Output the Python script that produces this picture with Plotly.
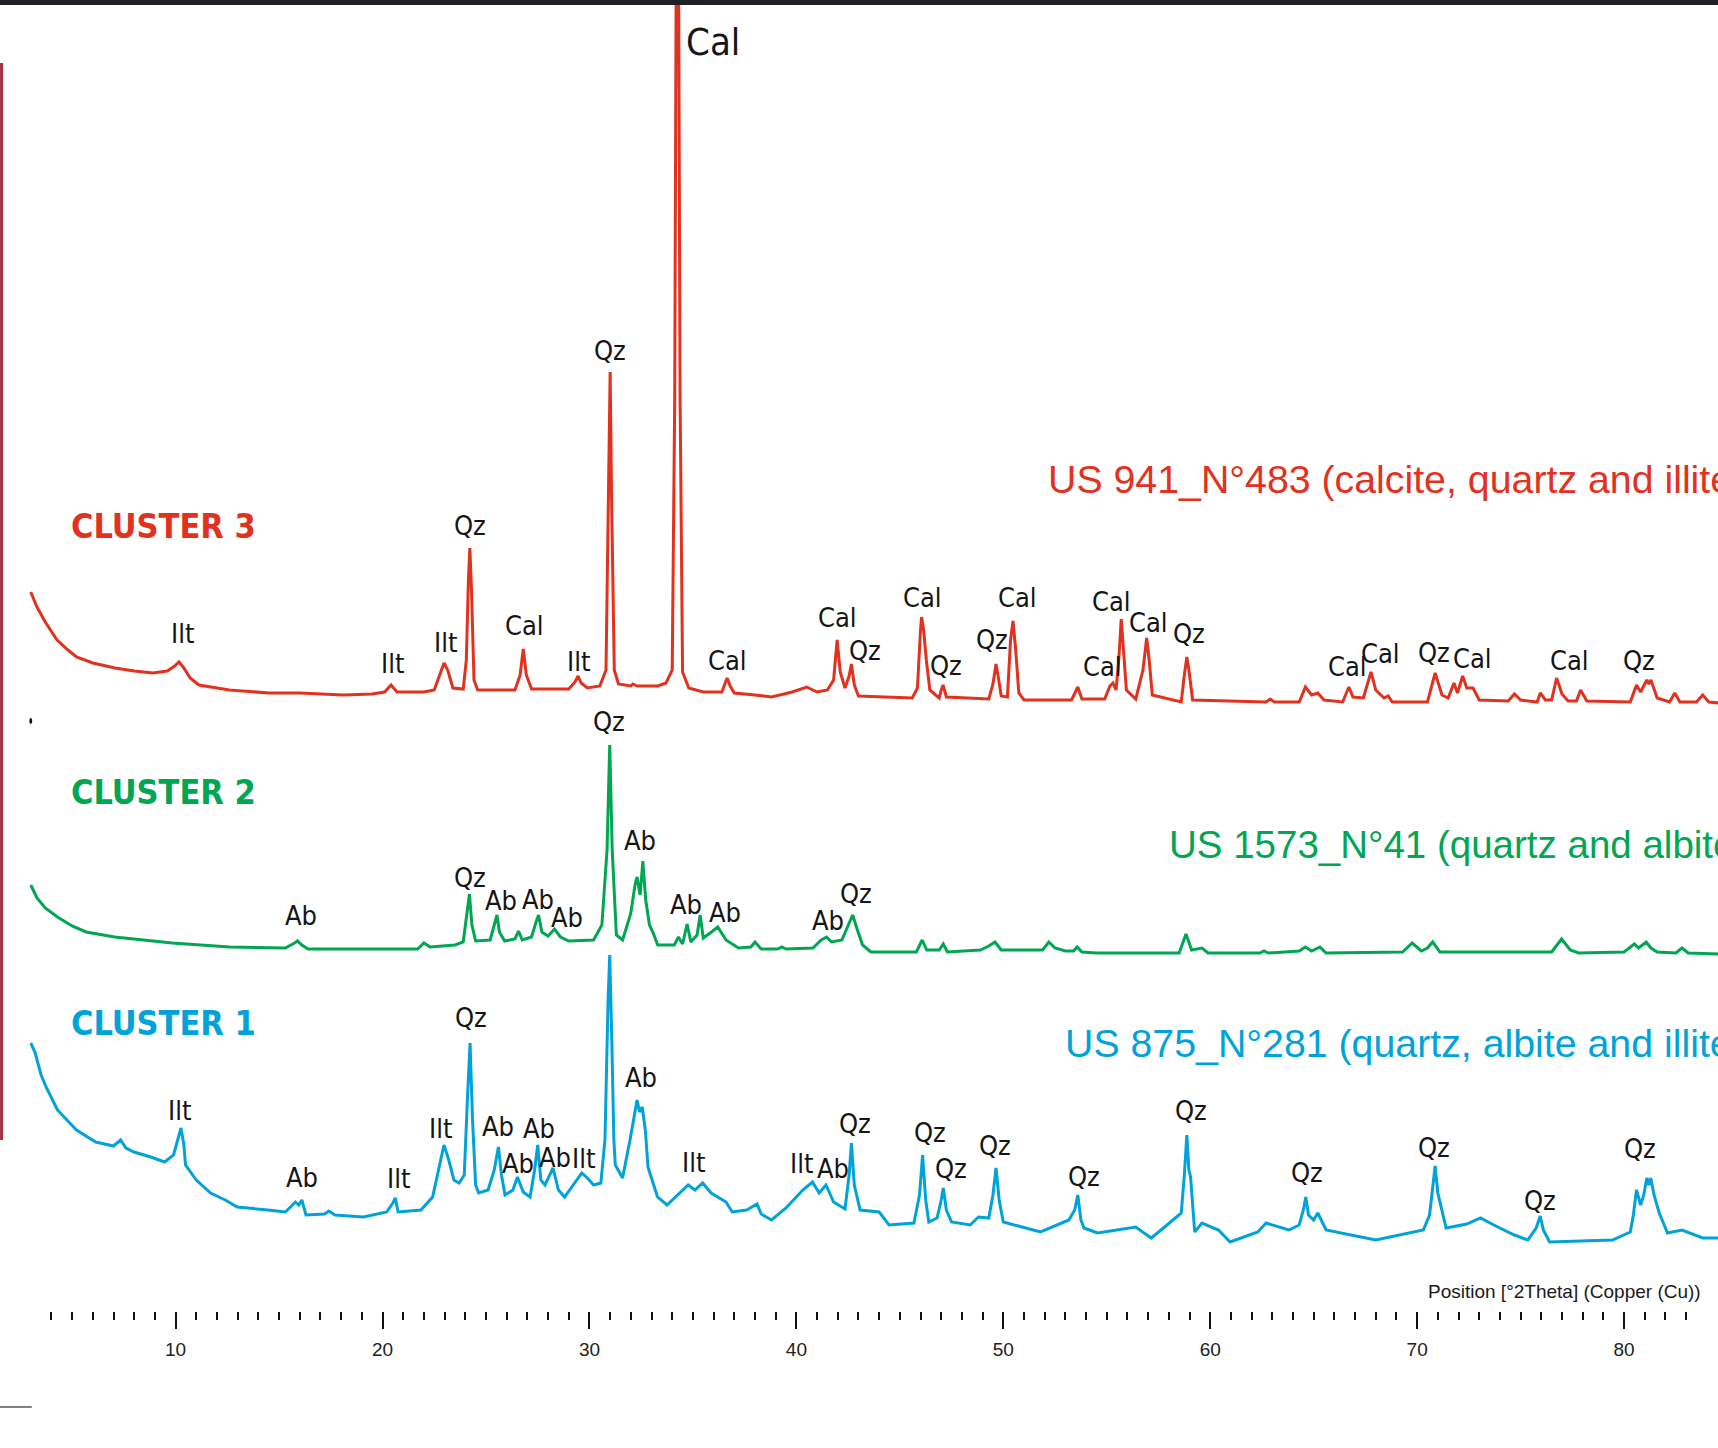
import plotly.graph_objects as go

# ---------------- data (2θ in degrees, stacked intensity in a.u.) ----------------
two_theta_c3 = [3.0, 3.3, 3.7, 4.27, 4.8, 5.21, 6.0, 7.07, 8.0, 8.91, 9.6, 9.95, 10.16, 10.4, 10.7, 11.13, 12.0, 12.6,
                14.5, 16.0, 18.1, 19.5, 20.1, 20.41, 20.7, 22.0, 22.5, 22.8, 22.97, 23.15, 23.4, 23.9, 24.05, 24.15,
                24.22, 24.3, 24.42, 24.6, 26.4, 26.65, 26.8, 26.95, 27.2, 29.0, 29.3, 29.45, 29.6, 29.9, 30.5, 30.8,
                30.93, 31.0, 31.07, 31.2, 31.4, 32.0, 32.1, 32.3, 33.3, 33.7, 34.0, 34.12, 34.2, 34.3, 34.38, 34.5,
                34.8, 35.5, 36.4, 36.55, 36.65, 36.8, 37.0, 38.0, 38.8, 39.8, 40.5, 41.0, 41.5, 41.8, 41.97, 42.12,
                42.35, 42.55, 42.66, 42.8, 43.0, 45.6, 45.85, 46.0, 46.05, 46.15, 46.28, 46.45, 46.9, 47.0, 47.09,
                47.25, 49.3, 49.5, 49.65, 49.75, 49.9, 50.2, 50.35, 50.47, 50.6, 50.75, 51.0, 53.3, 53.5, 53.6, 53.8,
                54.9, 55.15, 55.3, 55.45, 55.58, 55.7, 55.82, 55.95, 56.4, 56.75, 56.93, 57.05, 57.2, 58.6, 58.75,
                58.87, 58.97, 59.15, 62.7, 62.9, 63.1, 64.3, 64.6, 64.9, 65.2, 65.5, 66.4, 66.7, 66.9, 67.4, 67.77,
                68.0, 68.4, 68.6, 68.8, 70.5, 70.87, 71.2, 71.5, 71.78, 71.95, 72.2, 72.4, 72.7, 73.0, 74.4, 74.7,
                75.0, 75.8, 75.95, 76.2, 76.5, 76.74, 77.0, 77.3, 77.7, 77.9, 78.2, 80.3, 80.6, 80.8, 81.1, 81.2,
                81.3, 81.6, 82.2, 82.45, 82.7, 83.5, 83.8, 84.1, 84.6]
intensity_c3 = [856, 841, 826, 808, 798, 791, 785, 780, 777, 775, 777, 782, 786, 780, 770, 763, 760, 758,
                755, 755, 753, 754, 756, 763, 756, 756, 758, 776, 785, 778, 760, 759, 788, 868,
                900, 858, 768, 758, 758, 773, 799, 773, 759, 759, 766, 772, 765, 760, 762, 778,
                948, 1076, 948, 778, 764, 762, 764, 762, 762, 765, 778, 1048, 1520, 1520, 1048, 776,
                760, 756, 756, 764, 770, 762, 755, 753, 751, 756, 761, 756, 758, 768, 808, 776,
                760, 772, 784, 763, 752, 750, 760, 818, 831, 818, 788, 758, 750, 758, 763,
                751, 749, 764, 784, 772, 752, 751, 808, 827, 798, 755, 748, 748, 756, 761, 749,
                749, 762, 765, 758, 788, 829, 798, 758, 749, 778, 810, 788, 753, 746, 773,
                791, 778, 748, 746, 749, 746, 746, 761, 753, 755, 748, 746, 761, 751, 750, 776,
                758, 750, 752, 746, 746, 775, 753, 750, 765, 755, 772, 760, 760, 748, 747, 754,
                748, 746, 755, 748, 748, 770, 754, 747, 747, 758, 747, 746, 763, 756, 768, 764,
                768, 750, 746, 755, 746, 746, 753, 746, 745]

two_theta_c2 = [3.0, 3.3, 3.7, 4.29, 5.0, 5.67, 7.06, 9.83, 12.6, 15.3, 15.75, 15.89, 16.1, 16.4, 21.7, 22.0, 22.3,
                23.5, 23.9, 24.05, 24.2, 24.32, 24.5, 25.2, 25.45, 25.53, 25.65, 25.9, 26.4, 26.57, 26.75, 27.2,
                27.45, 27.54, 27.7, 28.0, 28.31, 28.6, 29.0, 30.2, 30.6, 30.85, 30.98, 31.1, 31.3, 31.6, 31.9, 32.0,
                32.2, 32.3, 32.45, 32.58, 32.72, 32.9, 33.08, 33.3, 34.1, 34.3, 34.5, 34.72, 34.9, 35.2, 35.35, 35.5,
                35.9, 36.2, 36.6, 37.2, 37.8, 38.0, 38.3, 39.1, 39.3, 39.5, 40.8, 41.2, 41.46, 41.7, 42.2, 42.5,
                42.72, 42.95, 43.2, 43.6, 45.8, 46.08, 46.3, 46.9, 47.1, 47.3, 48.9, 49.3, 49.6, 49.9, 51.9, 52.2,
                52.5, 53.0, 53.4, 53.57, 53.8, 54.5, 58.5, 58.83, 59.1, 59.6, 59.9, 62.4, 62.6, 62.8, 64.3, 64.6,
                64.9, 65.3, 65.6, 69.3, 69.76, 70.2, 70.5, 70.75, 71.1, 76.5, 76.98, 77.4, 77.8, 80.0, 80.5, 80.7,
                81.07, 81.3, 81.6, 82.5, 82.8, 83.1, 84.6]
intensity_c2 = [563, 550, 540, 531, 522, 516, 511, 505, 501, 500, 505, 507, 503, 499, 499, 505, 501,
                503, 506, 528, 554, 523, 507, 508, 528, 533, 516, 507, 509, 517, 508, 511,
                528, 533, 516, 512, 519, 511, 507, 508, 523, 598, 703, 598, 513, 508, 528, 535,
                563, 571, 553, 587, 548, 523, 515, 503, 503, 511, 504, 524, 506, 513, 533, 510,
                516, 521, 508, 500, 501, 506, 499, 499, 501, 499, 500, 508, 511, 506, 508, 523,
                533, 518, 503, 496, 496, 508, 498, 498, 504, 496, 498, 502, 506, 498, 498, 506,
                500, 497, 497, 501, 496, 495, 495, 514, 498, 500, 495, 495, 497, 495, 497, 501,
                497, 501, 495, 496, 505, 497, 500, 506, 496, 496, 509, 498, 495, 496, 504, 500,
                506, 500, 496, 495, 500, 495, 494]

two_theta_c1 = [3.0, 3.2, 3.5, 3.74, 4.29, 5.21, 6.14, 7.0, 7.34, 7.6, 7.99, 8.8, 9.47, 9.9, 10.1, 10.26, 10.4,
                10.48, 11.0, 11.69, 12.4, 12.98, 14.46, 15.3, 15.6, 15.79, 15.95, 16.1, 16.3, 17.2, 17.41, 17.7,
                19.08, 20.2, 20.5, 20.62, 20.75, 21.86, 22.42, 22.75, 22.97, 23.2, 23.45, 23.7, 23.95, 24.1, 24.23,
                24.35, 24.5, 24.64, 25.1, 25.4, 25.6, 25.75, 25.92, 26.3, 26.52, 26.8, 27.13, 27.35, 27.5, 27.65,
                27.85, 28.24, 28.5, 28.8, 29.2, 29.63, 29.9, 30.2, 30.55, 30.75, 30.9, 30.98, 31.08, 31.18, 31.25,
                31.6, 31.96, 32.15, 32.3, 32.42, 32.55, 32.7, 32.83, 32.95, 33.29, 33.75, 34.38, 34.77, 35.1, 35.47,
                35.88, 36.6, 36.9, 37.6, 38.1, 38.3, 38.8, 39.5, 40.31, 40.78, 41.1, 41.43, 41.8, 42.35, 42.55,
                42.66, 42.8, 43.08, 44.0, 44.48, 45.68, 45.95, 46.1, 46.25, 46.4, 46.8, 47.0, 47.1, 47.25, 47.5,
                48.4, 48.8, 49.3, 49.5, 49.65, 49.8, 50.0, 51.8, 53.17, 53.45, 53.6, 53.75, 53.9, 54.56, 56.4,
                57.15, 57.8, 58.6, 58.75, 58.87, 58.97, 59.05, 59.25, 59.6, 60.4, 60.96, 62.3, 62.7, 63.8, 64.3,
                64.5, 64.62, 64.75, 65.0, 65.2, 65.6, 68.0, 70.3, 70.6, 70.87, 71.0, 71.2, 71.4, 72.4, 73.06, 73.8,
                74.7, 75.35, 75.75, 75.95, 76.1, 76.4, 79.44, 80.3, 80.45, 80.6, 80.8, 80.95, 81.1, 81.2, 81.29,
                81.45, 81.7, 82.1, 82.8, 83.8, 84.6]
intensity_c1 = [405, 396, 373, 361, 338, 318, 306, 302, 308, 300, 296, 291, 286, 293, 308, 320, 303,
                283, 268, 255, 248, 241, 238, 236, 242, 246, 243, 248, 233, 234, 237, 233,
                231, 236, 245, 250, 236, 238, 251, 283, 303, 288, 268, 265, 273, 348, 405,
                328, 263, 255, 258, 278, 301, 273, 253, 258, 271, 256, 251, 278, 303, 268,
                263, 280, 258, 251, 263, 275, 270, 263, 265, 308, 448, 493, 408, 308, 283,
                270, 308, 333, 348, 336, 341, 318, 281, 273, 251, 243, 256, 263, 258, 265,
                255, 246, 236, 238, 244, 234, 228, 240, 258, 266, 255, 263, 246, 239, 273,
                305, 263, 238, 236, 223, 225, 253, 293, 248, 226, 230, 248, 260, 238, 226,
                223, 231, 230, 253, 280, 248, 226, 216, 228, 238, 253, 228, 220, 215, 221,
                210, 221, 235, 273, 313, 278, 271, 216, 225, 218, 206, 216, 225, 218, 223,
                238, 251, 233, 228, 235, 218, 208, 218, 233, 282, 255, 238, 220, 224, 230, 222,
                213, 208, 220, 232, 218, 206, 208, 216, 233, 258, 243, 253, 270, 263, 270,
                253, 235, 215, 218, 210, 210]

# phase labels: (text, 2θ, label height)
labels_c3 = [("Ilt", 10.31, 815), ("Ilt", 20.46, 785), ("Ilt", 23.02, 806), ("Qz", 24.23, 923),
             ("Cal", 26.84, 823), ("Ilt", 29.47, 787), ("Qz", 30.99, 1098), ("Cal", 36.65, 788),
             ("Cal", 41.97, 831), ("Qz", 43.32, 798), ("Cal", 46.10, 851), ("Qz", 47.22, 783),
             ("Qz", 49.46, 809), ("Cal", 50.71, 851), ("Cal", 54.77, 782), ("Cal", 55.21, 847),
             ("Cal", 57.0, 826), ("Qz", 58.98, 815), ("Cal", 66.65, 782), ("Cal", 68.24, 795),
             ("Qz", 70.82, 796), ("Cal", 72.69, 790), ("Cal", 77.35, 788), ("Qz", 80.73, 788)]
label_c3_main = ("Cal", 35.97, 1406)
labels_c2 = [("Ab", 16.06, 533), ("Qz", 24.21, 571), ("Ab", 25.71, 548), ("Ab", 27.52, 549),
             ("Ab", 28.92, 531), ("Qz", 30.95, 727), ("Ab", 32.45, 608), ("Ab", 34.67, 544),
             ("Ab", 36.53, 536), ("Ab", 41.53, 528), ("Qz", 42.86, 555)]
labels_c1 = [("Ilt", 10.21, 338), ("Ab", 16.09, 271), ("Ilt", 20.79, 270), ("Ilt", 22.82, 320),
             ("Qz", 24.28, 431), ("Ab", 25.56, 322), ("Ab", 26.55, 285), ("Ab", 27.56, 320),
             ("Ab", 28.34, 291), ("Ilt", 29.72, 290), ("Ab", 32.51, 371), ("Ilt", 35.05, 286),
             ("Ilt", 40.23, 285), ("Ab", 41.79, 280), ("Qz", 42.81, 325), ("Qz", 46.46, 316),
             ("Qz", 47.48, 280), ("Qz", 49.60, 303), ("Qz", 53.88, 272), ("Qz", 59.06, 338),
             ("Qz", 64.68, 276), ("Qz", 70.82, 301), ("Qz", 75.92, 248), ("Qz", 80.78, 300)]

cluster_names = ["CLUSTER 3", "CLUSTER 2", "CLUSTER 1"]
sample_names = ["US 941_N°483 (calcite, quartz and illite)",
                "US 1573_N°41 (quartz and albite)",
                "US 875_N°281 (quartz, albite and illite)"]
major_ticks = [10, 20, 30, 40, 50, 60, 70, 80]
minor_ticks = [v for v in range(4, 84) if v % 10 != 0]
axis_title = "Position [°2Theta] (Copper (Cu))"

# ---------------- styling ----------------
RED = "#E2321F"
GREEN = "#00A651"
BLUE = "#00A3D9"
LABEL_FONT = "DejaVu Sans Condensed, Liberation Sans Narrow, sans-serif"
TEXT_FONT = "Liberation Sans, Arial, sans-serif"

fig = go.Figure()
for xs, ys, col in [(two_theta_c1, intensity_c1, BLUE),
                    (two_theta_c2, intensity_c2, GREEN),
                    (two_theta_c3, intensity_c3, RED)]:
    fig.add_trace(go.Scatter(x=xs, y=ys, mode="lines", line=dict(color=col, width=3),
                             hoverinfo="skip", showlegend=False))

ann = []
for group in (labels_c3, labels_c2, labels_c1):
    for txt, x, y in group:
        ann.append(dict(x=x, y=y, text=txt, showarrow=False, xanchor="center", yanchor="middle",
                        font=dict(family=LABEL_FONT, size=27, color="#151515")))
txt, x, y = label_c3_main
ann.append(dict(x=x, y=y, text=txt, showarrow=False, xanchor="center", yanchor="middle",
                font=dict(family=LABEL_FONT, size=38, color="#151515")))

for name, y, col in zip(cluster_names, [922, 656, 425], [RED, GREEN, BLUE]):
    ann.append(dict(x=4.85, y=y, text="<b>%s</b>" % name, showarrow=False, xanchor="left", yanchor="middle",
                    font=dict(family=LABEL_FONT, size=34, color=col)))
for name, x, y, col, fs in zip(sample_names, [52.07, 57.9, 52.89], [969, 604, 405], [RED, GREEN, BLUE],
                               [39.3, 38.5, 39.3]):
    ann.append(dict(x=x, y=y, text=name, showarrow=False, xanchor="left", yanchor="middle",
                    font=dict(family=TEXT_FONT, size=fs, color=col)))

ann.append(dict(x=83.82, y=157, text=axis_title, showarrow=False, xanchor="right", yanchor="middle",
                font=dict(family=TEXT_FONT, size=19, color="#1a1a1a")))

shapes = [
    dict(type="rect", xref="paper", yref="paper", x0=0, x1=1, y0=0.9962, y1=1.0,
         fillcolor="#202124", line=dict(width=0)),
    dict(type="line", xref="paper", yref="paper", x0=0.0009, x1=0.0009, y0=0.952, y1=0.1304,
         line=dict(color="#A8303F", width=3)),
    dict(type="line", xref="paper", yref="paper", x0=0, x1=0.0185, y0=-0.0732, y1=-0.0732,
         line=dict(color="#555555", width=1.5)),
    dict(type="circle", xref="x", yref="y", x0=2.93, x1=3.07, y0=724, y1=730,
         fillcolor="#111111", line=dict(width=0)),
]

fig.update_layout(
    width=1718, height=1448,
    margin=dict(l=0, r=0, t=0, b=137, pad=0),
    paper_bgcolor="white", plot_bgcolor="white",
    annotations=ann, shapes=shapes,
    xaxis=dict(range=[1.513, 84.54], showgrid=False, zeroline=False, showline=False,
               ticks="outside", tickmode="array", tickvals=major_ticks, ticklen=17, tickwidth=1.6,
               tickcolor="#111111", tickfont=dict(family=TEXT_FONT, size=19, color="#222222"),
               ticklabelstandoff=4,
               minor=dict(tickmode="array", tickvals=minor_ticks, ticks="outside", ticklen=8,
                          tickwidth=1.6, tickcolor="#111111", showgrid=False)),
    yaxis=dict(range=[137, 1448], visible=False, showgrid=False, zeroline=False),
)

fig.write_html("out.html", config={"displayModeBar": False},
               post_script="document.body.style.margin='0px';document.body.style.padding='0px';")
